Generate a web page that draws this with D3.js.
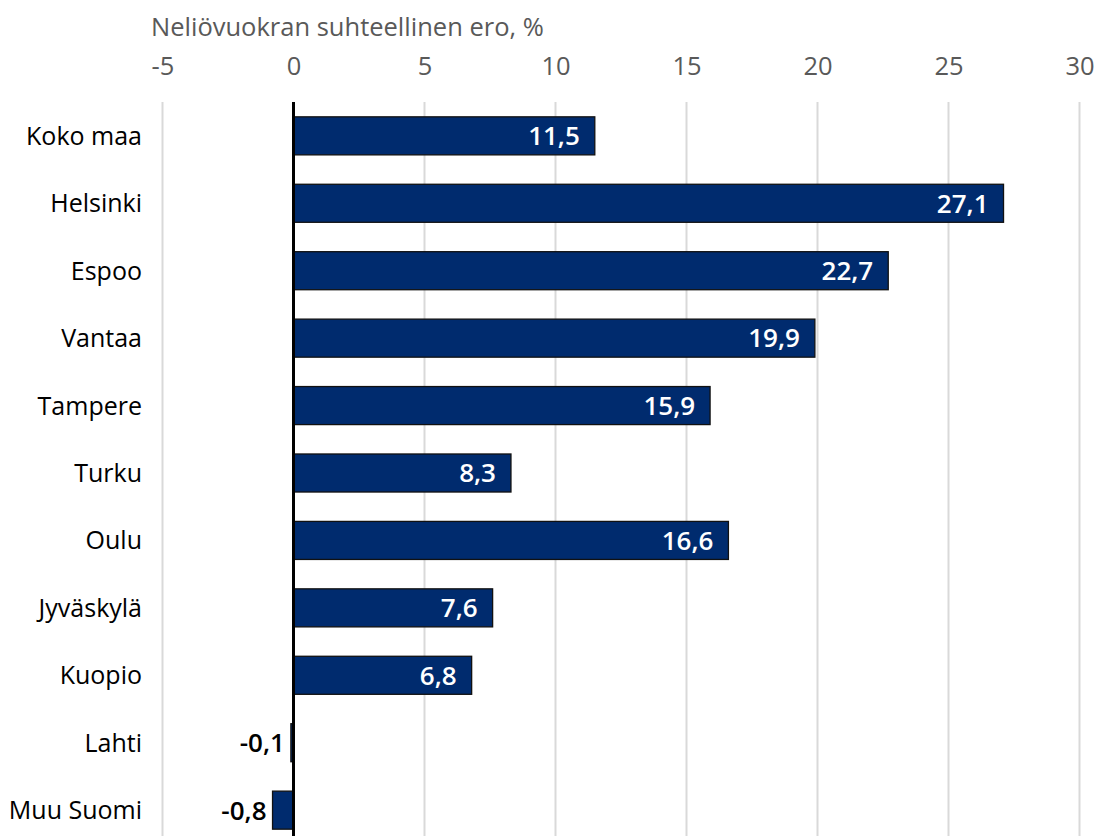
<!DOCTYPE html>
<html>
<head>
<meta charset="utf-8">
<script src="https://cdn.jsdelivr.net/npm/d3@7"></script>
<style>
  html, body { margin: 0; padding: 0; background: #fff; }
  svg { display: block; }
  text { font-family: "Open Sans", "Noto Sans", sans-serif; }
</style>
</head>
<body>
<svg id="chart" width="1096" height="836"></svg>
<script>
// Relative difference of rent per square metre, by area (%)
const categories = ["Koko maa", "Helsinki", "Espoo", "Vantaa", "Tampere", "Turku",
  "Oulu", "Jyväskylä", "Kuopio", "Lahti", "Muu Suomi"];
const values = [11.5, 27.1, 22.7, 19.9, 15.9, 8.3, 16.6, 7.6, 6.8, -0.1, -0.8];
const tickValues = [-5, 0, 5, 10, 15, 20, 25, 30];
const axisTitle = "Neliövuokran suhteellinen ero, %";

const svg = d3.select("#chart");
const W = 1096, H = 836;

const x = d3.scaleLinear().domain([-5, 30]).range([162.5, 1079.5]);
const y = d3.scaleBand().domain(categories).range([102, 844])
  .paddingInner(0.436).paddingOuter(0.22);

const fmt = v => d3.format(".1f")(v).replace(".", ",").replace("−", "-");

// vertical gridlines
svg.append("g").selectAll("line").data(tickValues.filter(t => t !== 0)).join("line")
  .attr("x1", d => x(d)).attr("x2", d => x(d))
  .attr("y1", 102).attr("y2", H)
  .attr("stroke", "#d9d9d9").attr("stroke-width", 2);

// top axis tick labels
const axis = d3.axisTop(x).tickValues(tickValues).tickSize(0).tickPadding(0)
  .tickFormat(d => String(d));
const gAxis = svg.append("g").attr("transform", "translate(0,75)").call(axis);
gAxis.select(".domain").remove();
gAxis.selectAll("text")
  .attr("font-size", 25.5).attr("fill", "#595959")
  .style("font-family", "'Open Sans', sans-serif");

// axis title
svg.append("text").attr("x", 151).attr("y", 36)
  .attr("font-size", 25.5).attr("fill", "#595959")
  .text(axisTitle);

// bars
svg.append("g").selectAll("rect").data(values).join("rect")
  .attr("x", d => x(Math.min(0, d)))
  .attr("y", (d, i) => y(categories[i]))
  .attr("width", d => Math.abs(x(d) - x(0)))
  .attr("height", y.bandwidth())
  .attr("fill", "#002b6e")
  .attr("stroke", "#111")
  .attr("stroke-width", 1.3);

// zero line
svg.append("line").attr("x1", x(0)).attr("x2", x(0)).attr("y1", 102).attr("y2", H)
  .attr("stroke", "#000").attr("stroke-width", 3);

// category labels
svg.append("g").selectAll("text").data(categories).join("text")
  .attr("x", 142)
  .attr("y", d => y(d) + y.bandwidth() / 2)
  .attr("dy", "0.36em")
  .attr("text-anchor", "end")
  .attr("font-size", 25).attr("fill", "#000")
  .text(d => d);

// value labels
svg.append("g").selectAll("text").data(values).join("text")
  .attr("x", d => d >= 0 ? x(d) - 15 : x(Math.min(d, 0)) - 6)
  .attr("y", (d, i) => y(categories[i]) + y.bandwidth() / 2)
  .attr("dy", "0.36em")
  .attr("text-anchor", "end")
  .attr("font-size", 26).attr("font-weight", 600)
  .attr("fill", d => d >= 0 ? "#fff" : "#000")
  .text(d => fmt(d));
</script>
</body>
</html>
